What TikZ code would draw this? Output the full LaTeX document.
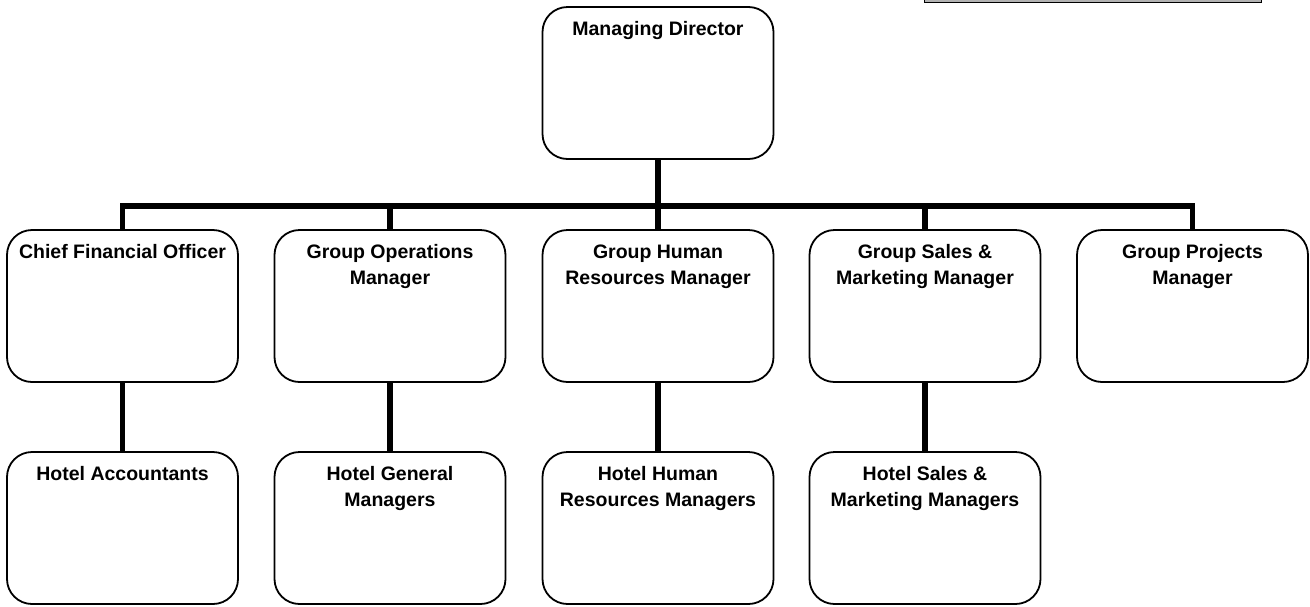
\documentclass[tikz,border=0pt]{standalone}
\usepackage{fontspec}
\setmainfont{Liberation Sans}
\begin{document}
\begin{tikzpicture}[x=1pt,y=-1pt,
  orgbox/.style={draw=black, line width=1.8pt, rounded corners=25pt,
    inner sep=0pt, outer sep=0pt, anchor=north, fill=white},
  link/.style={line width=5.5pt, line join=miter, draw=black}]
  % page frame
  \useasboundingbox (0,0) rectangle (1310,606);

  % box with its caption set near the top
  \newcommand{\orgtext}[1]{\parbox[c][152pt][t]{231pt}{\centering
    \fontsize{19.5}{26.7}\selectfont\bfseries\rule{0pt}{28pt}#1\par}}

  % shaded strip along the top edge
  \draw[fill=gray!60, draw=black, line width=0.9pt] (924,-10) rectangle (1261,2.5);

  % top level
  \node[orgbox] (md) at (658,7) {\orgtext{Managing Director}};

  % second level
  \node[orgbox] (cfo) at (122.5,230) {\orgtext{Chief Financial Officer}};
  \node[orgbox] (gom) at (390,230)   {\orgtext{Group Operations\\Manager}};
  \node[orgbox] (ghr) at (658,230)   {\orgtext{Group Human\\Resources Manager}};
  \node[orgbox] (gsm) at (925,230)   {\orgtext{Group Sales \&\\Marketing Manager}};
  \node[orgbox] (gpm) at (1192.5,230){\orgtext{Group Projects\\Manager}};

  % third level
  \node[orgbox] (hac) at (122.5,452) {\orgtext{Hotel Accountants}};
  \node[orgbox] (hgm) at (390,452)   {\orgtext{Hotel General\\Managers}};
  \node[orgbox] (hhr) at (658,452)   {\orgtext{Hotel Human\\Resources Managers}};
  \node[orgbox] (hsm) at (925,452)   {\orgtext{Hotel Sales \&\\Marketing Managers}};

  % reporting bus
  \coordinate (bus) at (0,206);
  \draw[link] (cfo.north) -- (cfo.north |- bus) -- (gpm.north |- bus) -- (gpm.north);
  \draw[link] (md.south) -- (md.south |- bus);
  \draw[link] (gom.north) -- (gom.north |- bus);
  \draw[link] (ghr.north) -- (ghr.north |- bus);
  \draw[link] (gsm.north) -- (gsm.north |- bus);

  % hotel-level reporting lines
  \draw[link] (cfo.south) -- (hac.north);
  \draw[link] (gom.south) -- (hgm.north);
  \draw[link] (ghr.south) -- (hhr.north);
  \draw[link] (gsm.south) -- (hsm.north);
\end{tikzpicture}
\end{document}
